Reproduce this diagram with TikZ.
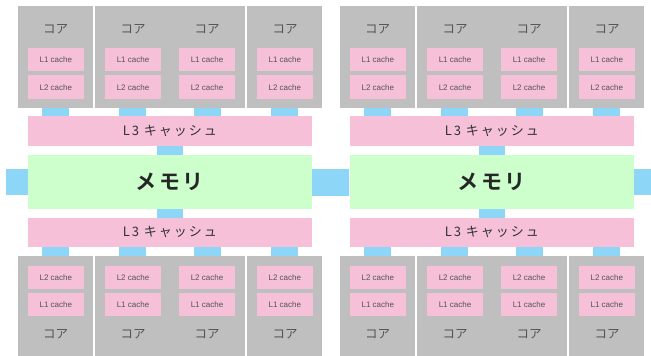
\documentclass[tikz,border=0pt]{standalone}
\usepackage{fontspec}
\setmainfont{Liberation Sans}
\newfontfamily\jp{Noto Sans CJK JP}
\newfontfamily\jpL[LetterSpace=15]{Noto Sans CJK JP}
\newfontfamily\jpB[LetterSpace=12]{Noto Sans CJK JP Bold}
\definecolor{coregray}{HTML}{BFBFBF}
\definecolor{cachepink}{HTML}{F5C0D8}
\definecolor{memgreen}{HTML}{CCFFCC}
\definecolor{linkblue}{HTML}{8DD6F7}
\definecolor{txtgray}{HTML}{555555}
\newcommand\bx[7]{\node[#1,minimum width={(#5)-(#3)},minimum height={(#6)-(#4)}] (#2) at ({((#3)+(#5))/2},{((#4)+(#6))/2}) {#7};}
\begin{document}
\begin{tikzpicture}[x=1pt,y=-1pt,
  every node/.style={inner sep=0pt,outer sep=0pt},
  core/.style={fill=coregray},
  cachebox/.style={fill=cachepink,font=\fontsize{8}{9}\selectfont,text=txtgray},
  l3box/.style={fill=cachepink,font=\jpL\fontsize{13}{14}\selectfont,text=black!80},
  membox/.style={fill=memgreen,font=\jpB\fontsize{21}{22}\selectfont,text=black!85},
  conn/.style={fill=linkblue},
  coretxt/.style={font=\jp\fontsize{12.5}{13}\selectfont,text=txtgray}]
\useasboundingbox (0,0) rectangle (651,356);
\foreach \h/\ox in {a/0,b/322}{
  % top cores
  \bx{core}{cA\h}{\ox+18}{6}{\ox+92.7}{108}{}
  \bx{core}{cBC\h}{\ox+95}{6}{\ox+244.7}{108}{}
  \bx{core}{cD\h}{\ox+247.3}{6}{\ox+322}{108}{}
  \node[coretxt] (tA\h) at ({\ox+55.5},29) {コア};
  \node[coretxt] (tB\h) at ({\ox+133},29) {コア};
  \node[coretxt] (tC\h) at ({\ox+207},29) {コア};
  \node[coretxt] (tD\h) at ({\ox+285},29) {コア};
  \bx{cachebox}{aA\h}{\ox+28}{47.7}{\ox+83.7}{70.7}{L1 cache}
  \bx{cachebox}{bA\h}{\ox+28}{75.3}{\ox+83.7}{99}{L2 cache}
  \bx{cachebox}{aB\h}{\ox+105}{47.7}{\ox+161}{70.7}{L1 cache}
  \bx{cachebox}{bB\h}{\ox+105}{75.3}{\ox+161}{99}{L2 cache}
  \bx{cachebox}{aC\h}{\ox+179}{47.7}{\ox+235}{70.7}{L1 cache}
  \bx{cachebox}{bC\h}{\ox+179}{75.3}{\ox+235}{99}{L2 cache}
  \bx{cachebox}{aD\h}{\ox+257}{47.7}{\ox+312.7}{70.7}{L1 cache}
  \bx{cachebox}{bD\h}{\ox+257}{75.3}{\ox+312.7}{99}{L2 cache}
  % top links
  \bx{conn}{kA\h}{\ox+42.3}{108}{\ox+68.7}{116}{}
  \bx{conn}{kB\h}{\ox+119.3}{108}{\ox+146}{116}{}
  \bx{conn}{kC\h}{\ox+194}{108}{\ox+221}{116}{}
  \bx{conn}{kD\h}{\ox+271.3}{108}{\ox+297.7}{116}{}
  % L3 top, memory, L3 bottom
  \bx{l3box}{Lt\h}{\ox+28}{116}{\ox+311.7}{146}{L3 キャッシュ}
  \bx{conn}{mt\h}{\ox+156.7}{146}{\ox+183.3}{155}{}
  \bx{membox}{M\h}{\ox+28}{155}{\ox+311.7}{209}{メモリ}
  \bx{conn}{mb\h}{\ox+156.7}{209}{\ox+183.3}{217.5}{}
  \bx{l3box}{Lb\h}{\ox+28}{217.5}{\ox+311.7}{246.5}{L3 キャッシュ}
  % bottom links
  \bx{conn}{jA\h}{\ox+42.3}{246.5}{\ox+68.7}{256}{}
  \bx{conn}{jB\h}{\ox+119.3}{246.5}{\ox+146}{256}{}
  \bx{conn}{jC\h}{\ox+194}{246.5}{\ox+221}{256}{}
  \bx{conn}{jD\h}{\ox+271.3}{246.5}{\ox+297.7}{256}{}
  % bottom cores
  \bx{core}{dA\h}{\ox+18}{256}{\ox+92.7}{356}{}
  \bx{core}{dBC\h}{\ox+95}{256}{\ox+244.7}{356}{}
  \bx{core}{dD\h}{\ox+247.3}{256}{\ox+322}{356}{}
  \bx{cachebox}{eA\h}{\ox+28}{266}{\ox+83.7}{289.3}{L2 cache}
  \bx{cachebox}{fA\h}{\ox+28}{292.7}{\ox+83.7}{316.3}{L1 cache}
  \bx{cachebox}{eB\h}{\ox+105}{266}{\ox+161}{289.3}{L2 cache}
  \bx{cachebox}{fB\h}{\ox+105}{292.7}{\ox+161}{316.3}{L1 cache}
  \bx{cachebox}{eC\h}{\ox+179}{266}{\ox+235}{289.3}{L2 cache}
  \bx{cachebox}{fC\h}{\ox+179}{292.7}{\ox+235}{316.3}{L1 cache}
  \bx{cachebox}{eD\h}{\ox+257}{266}{\ox+312.7}{289.3}{L2 cache}
  \bx{cachebox}{fD\h}{\ox+257}{292.7}{\ox+312.7}{316.3}{L1 cache}
  \node[coretxt] (uA\h) at ({\ox+55.5},334) {コア};
  \node[coretxt] (uB\h) at ({\ox+133},334) {コア};
  \node[coretxt] (uC\h) at ({\ox+207},334) {コア};
  \node[coretxt] (uD\h) at ({\ox+285},334) {コア};
}
% memory side links
\bx{conn}{sL}{6.3}{169}{27.7}{195.3}{}
\bx{conn}{sM}{312.3}{169}{349.3}{195.5}{}
\bx{conn}{sR}{634}{169}{651}{195.3}{}
\end{tikzpicture}
\end{document}
